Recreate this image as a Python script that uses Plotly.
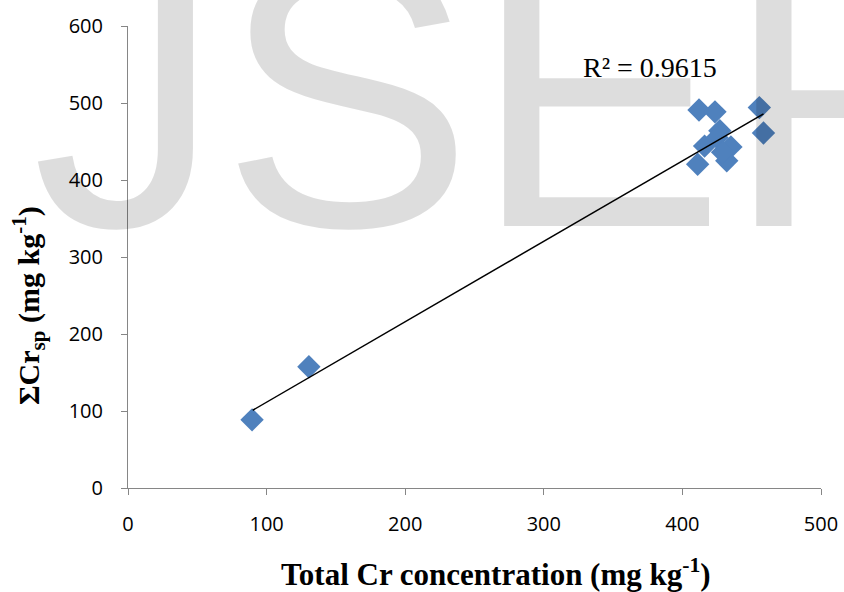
import plotly.graph_objects as go

# Data
total_cr = [89.5, 130.5, 412, 423.5, 455.5, 458.5, 427, 416, 435, 432, 411, 425, 429]
sum_cr_sp = [88.5, 157.5, 491, 488.5, 494, 461, 464, 444, 443, 425, 420.5, 455, 436]
# Linear trendline as drawn in the chart (end points)
trend_x = [90, 458.5]
trend_y = [101, 486]
x_ticks = [0, 100, 200, 300, 400, 500]
y_ticks = [0, 100, 200, 300, 400, 500, 600]
r2_label = "R² = 0.9615"

W, H = 844, 592
L, R, T, B = 128, 23, 26, 104
PW, PH = W - L - R, H - T - B


def px_x(p):
    return (p - L) / PW


def px_y(p):
    return (H - B - p) / PH


axis_col = "#868686"
tick_font = dict(family="Open Sans, Liberation Sans, sans-serif", size=20, color="#000000")
serif = "Liberation Serif, Times New Roman, serif"

fig = go.Figure()
fig.add_trace(go.Scatter(
    x=total_cr, y=sum_cr_sp, mode="markers",
    marker=dict(symbol="diamond", size=18, color="#4f81bd", line=dict(width=0)),
    showlegend=False, hoverinfo="skip"))
fig.add_trace(go.Scatter(
    x=trend_x, y=trend_y, mode="lines", line=dict(color="#000000", width=1.5),
    showlegend=False, hoverinfo="skip"))

fig.update_layout(
    width=W, height=H,
    margin=dict(l=L, r=R, t=T, b=B, pad=0, autoexpand=False),
    paper_bgcolor="white", plot_bgcolor="white",
    xaxis=dict(range=[0, 500], tickvals=x_ticks, showgrid=False, zeroline=False,
               showline=True, linecolor=axis_col, linewidth=1, automargin=False,
               ticks="outside", ticklen=6, tickcolor=axis_col, tickwidth=1,
               tickfont=tick_font, ticklabelstandoff=12),
    yaxis=dict(range=[0, 600], tickvals=y_ticks, showgrid=False, zeroline=False,
               showline=True, linecolor=axis_col, linewidth=1, automargin=False,
               ticks="outside", ticklen=6, tickcolor=axis_col, tickwidth=1,
               tickfont=tick_font, ticklabelstandoff=14),
    annotations=[
        dict(text=r2_label, xref="paper", yref="paper", x=px_x(581), y=px_y(67),
             xanchor="left", yanchor="middle", showarrow=False,
             font=dict(family=serif, size=28, color="#000000")),
        dict(text="<b>Total Cr concentration (mg kg<sup>-1</sup>)</b>", xref="paper", yref="paper",
             x=px_x(496), y=px_y(572), xanchor="center", yanchor="middle", showarrow=False,
             font=dict(family=serif, size=31, color="#000000")),
        dict(text="<b>ΣCr<sub>sp</sub> (mg kg<sup>-1</sup>)</b>", xref="paper", yref="paper",
             x=px_x(28), y=px_y(306), xanchor="center", yanchor="middle", textangle=-90,
             showarrow=False,
             font=dict(family=serif, size=30, color="#000000")),
        dict(text="JSER", xref="paper", yref="paper", x=px_x(30), y=px_y(95),
             xanchor="left", yanchor="middle", showarrow=False,
             font=dict(family="Liberation Sans, Arial, sans-serif", size=378,
                       color="rgba(0,0,0,0.135)")),
    ],
)

fig.write_html("out.html", config={"displayModeBar": False}, post_script=[
    "document.body.style.margin='0';document.body.style.padding='0';"
    "document.body.style.overflow='hidden';"
])
